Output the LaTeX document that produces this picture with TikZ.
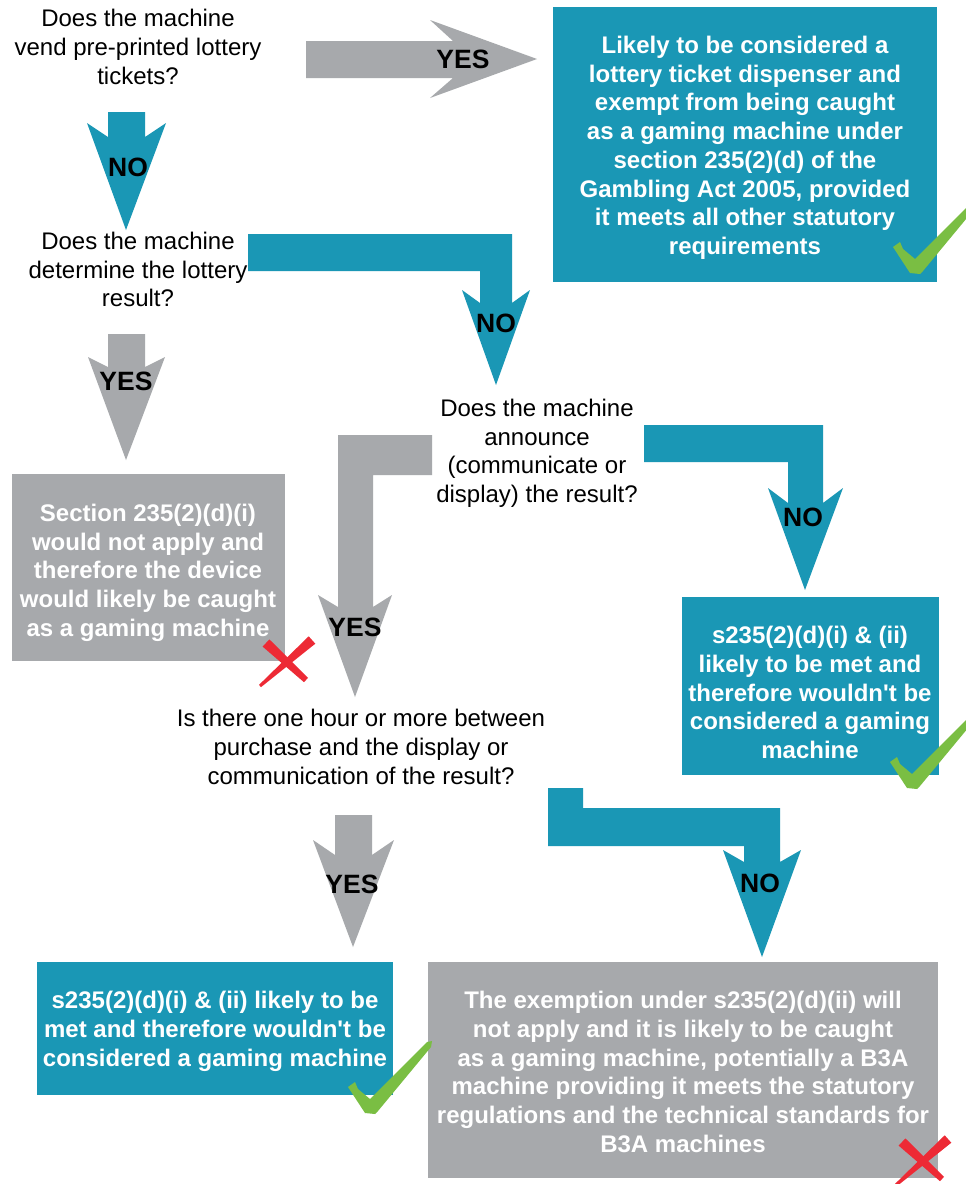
\documentclass[tikz,border=0pt]{standalone}
\usepackage{fontspec}
\newfontfamily\lib{Liberation Sans}
\definecolor{tealA}{RGB}{26,151,181}
\definecolor{grayA}{RGB}{167,169,172}
\definecolor{chkA}{RGB}{122,190,67}
\definecolor{crsA}{RGB}{237,42,53}
\newcommand\mychk[1]{\fill[chkA, shift={#1}] (-20,-25) -- (-13,-30) -- (-10,-23) -- (2,-13) -- (59,-70) -- (64,-71) -- (63,-65) -- (10,-1) -- (7,2) -- (-3,1) -- cycle;}
\newcommand\mycross[1]{\fill[crsA, shift={#1}] (-23.4,-16.4) -- (-16.6,-23.6) -- (22,14.8) -- (18,19.2) -- cycle;
  \fill[crsA, shift={#1}] (22.7,-26.7) -- (29.3,-19.3) -- (-25,24.1) -- (-27,21.9) -- cycle;}
\tikzset{
  qtext/.style={font=\lib\fontsize{24}{28.7}\selectfont, align=center, inner sep=0pt, anchor=north, text=black},
  btext/.style={font=\lib\bfseries\fontsize{24}{28.7}\selectfont, align=center, inner sep=0pt, anchor=north, text=white},
  lbl/.style={font=\lib\bfseries\fontsize{26.5}{30}\selectfont, inner sep=0pt, text=black},
  tealbox/.style={fill=tealA, draw=none, inner sep=0pt},
  graybox/.style={fill=grayA, draw=none, inner sep=0pt},
  tealarrow/.style={fill=tealA, draw=none},
  grayarrow/.style={fill=grayA, draw=none},
}
\begin{document}
\begin{tikzpicture}[x=1pt,y=-1pt]
\useasboundingbox (0,0) rectangle (966,1184);
\fill[white] (0,0) rectangle (966,1184);

% boxes
\node[tealbox, minimum width=384pt, minimum height=275pt] (b1) at (745,144.5) {};
\node[graybox, minimum width=273pt, minimum height=187pt] (bs) at (148.5,567.5) {};
\node[tealbox, minimum width=257pt, minimum height=178pt] (b2) at (810.5,686) {};
\node[tealbox, minimum width=356pt, minimum height=133pt] (b3) at (215,1028.5) {};
\node[graybox, minimum width=510pt, minimum height=216pt] (b4) at (683,1070) {};

% questions
\node[qtext] (q1) at (138,9.1) {Does the machine\\vend pre-printed lottery\\tickets?};
\node[qtext] (q2) at (138,232) {Does the machine\\determine the lottery\\result?};
\node[qtext] (q3) at (537,399) {Does the machine\\announce\\(communicate or\\display) the result?};
\node[qtext] (q4) at (361,709) {Is there one hour or more between\\purchase and the display or\\communication of the result?};

% box texts
\node[btext] (t1) at (745,36) {Likely to be considered a\\lottery ticket dispenser and\\exempt from being caught\\as a gaming machine under\\section 235(2)(d) of the\\Gambling Act 2005, provided\\it meets all other statutory\\requirements};
\node[btext] (ts) at (148,504) {Section 235(2)(d)(i)\\would not apply and\\therefore the device\\would likely be caught\\as a gaming machine};
\node[btext] (t2) at (810,626) {s235(2)(d)(i) \& (ii)\\likely to be met and\\therefore wouldn't be\\considered a gaming\\machine};
\node[btext] (t3) at (215,991) {s235(2)(d)(i) \& (ii) likely to be\\met and therefore wouldn't be\\considered a gaming machine};
\node[btext] (t4) at (683,991) {The exemption under s235(2)(d)(ii) will\\not apply and it is likely to be caught\\as a gaming machine, potentially a B3A\\machine providing it meets the statutory\\regulations and the technical standards for\\B3A machines};

% arrows
\fill[grayarrow] (306,41) -- (453,41) -- (430,20) -- (537,59) -- (430,98) -- (453,78) -- (306,78) -- cycle;
\fill[tealarrow] (108,112) -- (145,112) -- (145,137) -- (166,123) -- (126,230) -- (87,123) -- (108,137) -- cycle;
\fill[tealarrow] (248,234) -- (512,234) -- (512,303) -- (530,290) -- (496,385) -- (462,290) -- (480,303) -- (480,271) -- (248,271) -- cycle;
\fill[grayarrow] (108,334) -- (145,334) -- (145,367) -- (165,357) -- (126,460) -- (88,357) -- (108,367) -- cycle;
\fill[grayarrow] (432,435) -- (432,475) -- (373,475) -- (373,607) -- (392,595) -- (355,697) -- (318,595) -- (338,607) -- (338,435) -- cycle;
\fill[tealarrow] (644,425) -- (823,425) -- (823,503) -- (843,488) -- (805,590) -- (768,488) -- (788,503) -- (788,462) -- (644,462) -- cycle;
\fill[grayarrow] (335,815) -- (372,815) -- (372,855) -- (394,840) -- (353,947) -- (313,840) -- (335,855) -- cycle;
\fill[tealarrow] (548,788) -- (583,788) -- (583,808) -- (780,808) -- (780,862) -- (801,850) -- (762,957) -- (723,850) -- (744,862) -- (744,846) -- (548,846) -- cycle;

% arrow labels
\node[lbl] (l1) at (463,59) {YES};
\node[lbl] (l2) at (128,167) {NO};
\node[lbl] (l3) at (496,323) {NO};
\node[lbl] (l4) at (126,381) {YES};
\node[lbl] (l5) at (355,627) {YES};
\node[lbl] (l6) at (803,517) {NO};
\node[lbl] (l7) at (352,884) {YES};
\node[lbl] (l8) at (760,883) {NO};

% marks
\mychk{(913,272)}
\mychk{(910,787)}
\mychk{(368,1112)}
\mycross{(286,663)}
\mycross{(922,1162)}
\end{tikzpicture}
\end{document}
